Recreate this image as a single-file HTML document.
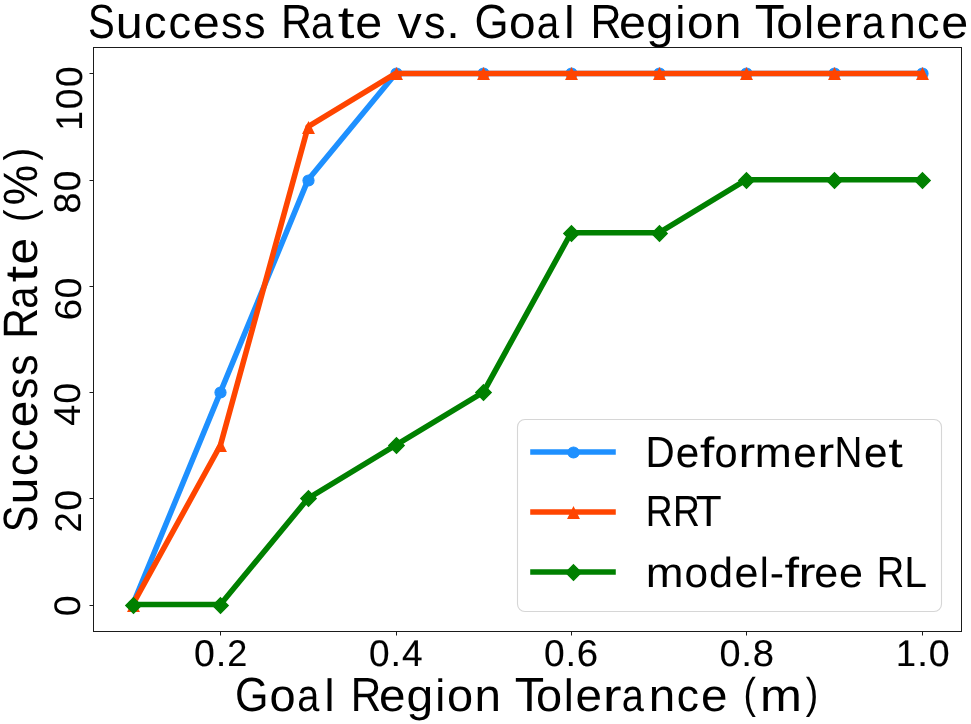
<!DOCTYPE html>
<html lang="en"><head><meta charset="utf-8"><title>Success Rate vs. Goal Region Tolerance</title>
<style>html,body{margin:0;padding:0;background:#fff;}svg{display:block;will-change:transform;}text{font-family:"Liberation Sans",sans-serif;fill:#000;white-space:pre;text-rendering:geometricPrecision;}</style>
</head><body>
<svg width="971" height="724" viewBox="0 0 971 724">
<rect x="0" y="0" width="971" height="724" fill="#fff"/>
<g id="plot-lines">
<polyline points="132.75,604.55 220.43,392.11 308.11,179.67 395.78,73.45 483.46,73.45 571.14,73.45 658.82,73.45 746.49,73.45 834.17,73.45 921.85,73.45" fill="none" stroke="#1e90ff" stroke-width="5.56" stroke-linejoin="round" stroke-linecap="square"/>
<circle cx="133.5" cy="605.5" r="5.56" fill="#1e90ff" stroke="#1e90ff" stroke-width="1.11"/><circle cx="220.5" cy="392.5" r="5.56" fill="#1e90ff" stroke="#1e90ff" stroke-width="1.11"/><circle cx="308.5" cy="180.5" r="5.56" fill="#1e90ff" stroke="#1e90ff" stroke-width="1.11"/><circle cx="396.5" cy="73.5" r="5.56" fill="#1e90ff" stroke="#1e90ff" stroke-width="1.11"/><circle cx="483.5" cy="73.5" r="5.56" fill="#1e90ff" stroke="#1e90ff" stroke-width="1.11"/><circle cx="571.5" cy="73.5" r="5.56" fill="#1e90ff" stroke="#1e90ff" stroke-width="1.11"/><circle cx="659.5" cy="73.5" r="5.56" fill="#1e90ff" stroke="#1e90ff" stroke-width="1.11"/><circle cx="746.5" cy="73.5" r="5.56" fill="#1e90ff" stroke="#1e90ff" stroke-width="1.11"/><circle cx="834.5" cy="73.5" r="5.56" fill="#1e90ff" stroke="#1e90ff" stroke-width="1.11"/><circle cx="922.5" cy="73.5" r="5.56" fill="#1e90ff" stroke="#1e90ff" stroke-width="1.11"/>
<polyline points="132.75,604.55 220.43,445.22 308.11,126.56 395.78,73.45 483.46,73.45 571.14,73.45 658.82,73.45 746.49,73.45 834.17,73.45 921.85,73.45" fill="none" stroke="#ff4500" stroke-width="5.56" stroke-linejoin="round" stroke-linecap="square"/>
<path d="M133.5 600.34 L127.94 611.46 L139.06 611.46 Z" fill="#ff4500" stroke="#ff4500" stroke-width="1.11" stroke-linejoin="miter"/><path d="M220.5 440.34 L214.94 451.46 L226.06 451.46 Z" fill="#ff4500" stroke="#ff4500" stroke-width="1.11" stroke-linejoin="miter"/><path d="M308.5 122.34 L302.94 133.46 L314.06 133.46 Z" fill="#ff4500" stroke="#ff4500" stroke-width="1.11" stroke-linejoin="miter"/><path d="M396.5 68.34 L390.94 79.46 L402.06 79.46 Z" fill="#ff4500" stroke="#ff4500" stroke-width="1.11" stroke-linejoin="miter"/><path d="M483.5 68.34 L477.94 79.46 L489.06 79.46 Z" fill="#ff4500" stroke="#ff4500" stroke-width="1.11" stroke-linejoin="miter"/><path d="M571.5 68.34 L565.94 79.46 L577.06 79.46 Z" fill="#ff4500" stroke="#ff4500" stroke-width="1.11" stroke-linejoin="miter"/><path d="M659.5 68.34 L653.94 79.46 L665.06 79.46 Z" fill="#ff4500" stroke="#ff4500" stroke-width="1.11" stroke-linejoin="miter"/><path d="M746.5 68.34 L740.94 79.46 L752.06 79.46 Z" fill="#ff4500" stroke="#ff4500" stroke-width="1.11" stroke-linejoin="miter"/><path d="M834.5 68.34 L828.94 79.46 L840.06 79.46 Z" fill="#ff4500" stroke="#ff4500" stroke-width="1.11" stroke-linejoin="miter"/><path d="M922.5 68.34 L916.94 79.46 L928.06 79.46 Z" fill="#ff4500" stroke="#ff4500" stroke-width="1.11" stroke-linejoin="miter"/>
<polyline points="132.75,604.55 220.43,604.55 308.11,498.33 395.78,445.22 483.46,392.11 571.14,232.78 658.82,232.78 746.49,179.67 834.17,179.67 921.85,179.67" fill="none" stroke="#008000" stroke-width="5.56" stroke-linejoin="round" stroke-linecap="square"/>
<path d="M133.5 597.64 L141.36 605.5 L133.5 613.36 L125.64 605.5 Z" fill="#008000" stroke="#008000" stroke-width="1.11" stroke-linejoin="miter"/><path d="M220.5 597.64 L228.36 605.5 L220.5 613.36 L212.64 605.5 Z" fill="#008000" stroke="#008000" stroke-width="1.11" stroke-linejoin="miter"/><path d="M308.5 490.64 L316.36 498.5 L308.5 506.36 L300.64 498.5 Z" fill="#008000" stroke="#008000" stroke-width="1.11" stroke-linejoin="miter"/><path d="M396.5 437.64 L404.36 445.5 L396.5 453.36 L388.64 445.5 Z" fill="#008000" stroke="#008000" stroke-width="1.11" stroke-linejoin="miter"/><path d="M483.5 384.64 L491.36 392.5 L483.5 400.36 L475.64 392.5 Z" fill="#008000" stroke="#008000" stroke-width="1.11" stroke-linejoin="miter"/><path d="M571.5 225.64 L579.36 233.5 L571.5 241.36 L563.64 233.5 Z" fill="#008000" stroke="#008000" stroke-width="1.11" stroke-linejoin="miter"/><path d="M659.5 225.64 L667.36 233.5 L659.5 241.36 L651.64 233.5 Z" fill="#008000" stroke="#008000" stroke-width="1.11" stroke-linejoin="miter"/><path d="M746.5 172.64 L754.36 180.5 L746.5 188.36 L738.64 180.5 Z" fill="#008000" stroke="#008000" stroke-width="1.11" stroke-linejoin="miter"/><path d="M834.5 172.64 L842.36 180.5 L834.5 188.36 L826.64 180.5 Z" fill="#008000" stroke="#008000" stroke-width="1.11" stroke-linejoin="miter"/><path d="M922.5 172.64 L930.36 180.5 L922.5 188.36 L914.64 180.5 Z" fill="#008000" stroke="#008000" stroke-width="1.11" stroke-linejoin="miter"/>
</g>
<g id="axes" fill="#1b1b1b">
<rect x="93" y="47" width="869" height="1"/><rect x="93" y="631" width="869" height="1"/><rect x="93" y="47" width="1" height="585"/><rect x="961" y="47" width="1" height="585"/>
<rect x="220" y="632" width="1" height="3"/><rect x="220" y="635" width="1" height="1" fill="#8d8d8d"/>
<rect x="396" y="632" width="1" height="3"/><rect x="396" y="635" width="1" height="1" fill="#8d8d8d"/>
<rect x="571" y="632" width="1" height="3"/><rect x="571" y="635" width="1" height="1" fill="#8d8d8d"/>
<rect x="746" y="632" width="1" height="3"/><rect x="746" y="635" width="1" height="1" fill="#8d8d8d"/>
<rect x="922" y="632" width="1" height="3"/><rect x="922" y="635" width="1" height="1" fill="#8d8d8d"/>
<rect x="90" y="605" width="3" height="1"/><rect x="89" y="605" width="1" height="1" fill="#8d8d8d"/>
<rect x="90" y="498" width="3" height="1"/><rect x="89" y="498" width="1" height="1" fill="#8d8d8d"/>
<rect x="90" y="392" width="3" height="1"/><rect x="89" y="392" width="1" height="1" fill="#8d8d8d"/>
<rect x="90" y="286" width="3" height="1"/><rect x="89" y="286" width="1" height="1" fill="#8d8d8d"/>
<rect x="90" y="180" width="3" height="1"/><rect x="89" y="180" width="1" height="1" fill="#8d8d8d"/>
<rect x="90" y="73" width="3" height="1"/><rect x="89" y="73" width="1" height="1" fill="#8d8d8d"/>
</g>
<g id="legend">
<rect x="517.5" y="419.5" width="424" height="192" rx="7.5" ry="7.5" fill="#fff" fill-opacity="0.8" stroke="#d6d6d6" stroke-width="1.11"/>
<line x1="533" y1="452" x2="613" y2="452" stroke="#1e90ff" stroke-width="5.56" stroke-linecap="square"/>
<circle cx="573.5" cy="452.5" r="5.56" fill="#1e90ff" stroke="#1e90ff" stroke-width="1.11"/>
<line x1="533" y1="512" x2="613" y2="512" stroke="#ff4500" stroke-width="5.56" stroke-linecap="square"/>
<path d="M573.5 507.34 L567.94 518.46 L579.06 518.46 Z" fill="#ff4500" stroke="#ff4500" stroke-width="1.11" stroke-linejoin="miter"/>
<line x1="533" y1="572" x2="613" y2="572" stroke="#008000" stroke-width="5.56" stroke-linecap="square"/>
<path d="M573.5 564.64 L581.36 572.5 L573.5 580.36 L565.64 572.5 Z" fill="#008000" stroke="#008000" stroke-width="1.11" stroke-linejoin="miter"/>
</g>
<g id="labels">
<text transform="translate(0 38)"><tspan font-size="48" x="88.07" y="0" textLength="26.72" lengthAdjust="spacingAndGlyphs">S</tspan><tspan font-size="45.56" x="115.84" y="0" textLength="26.95" lengthAdjust="spacingAndGlyphs">u</tspan><tspan font-size="45.56" x="143.95" y="0" textLength="22.55" lengthAdjust="spacingAndGlyphs">c</tspan><tspan font-size="45.56" x="168.41" y="0" textLength="22.55" lengthAdjust="spacingAndGlyphs">c</tspan><tspan font-size="45.56" x="192.71" y="0" textLength="26.99" lengthAdjust="spacingAndGlyphs">e</tspan><tspan font-size="45.56" x="220.93" y="0" textLength="21.54" lengthAdjust="spacingAndGlyphs">s</tspan><tspan font-size="45.56" x="244.11" y="0" textLength="21.54" lengthAdjust="spacingAndGlyphs">s</tspan> <tspan font-size="48" x="281.03" y="0" textLength="31.04" lengthAdjust="spacingAndGlyphs">R</tspan><tspan font-size="45.56" x="311.1" y="0" textLength="22.47" lengthAdjust="spacingAndGlyphs">a</tspan><tspan font-size="45.56" x="337.72" y="0" textLength="16.69" lengthAdjust="spacingAndGlyphs">t</tspan><tspan font-size="45.56" x="355.24" y="0" textLength="26.99" lengthAdjust="spacingAndGlyphs">e</tspan> <tspan font-size="45.56" x="397.52" y="0" textLength="24.25" lengthAdjust="spacingAndGlyphs">v</tspan><tspan font-size="45.56" x="423.93" y="0" textLength="21.54" lengthAdjust="spacingAndGlyphs">s</tspan><tspan font-size="45.56" x="446.28" y="0" textLength="13.51" lengthAdjust="spacingAndGlyphs">.</tspan> <tspan font-size="48" x="474.43" y="0" textLength="34.09" lengthAdjust="spacingAndGlyphs">G</tspan><tspan font-size="45.56" x="509.09" y="0" textLength="26.57" lengthAdjust="spacingAndGlyphs">o</tspan><tspan font-size="45.56" x="536.83" y="0" textLength="22.47" lengthAdjust="spacingAndGlyphs">a</tspan><tspan font-size="45.56" x="564.32" y="0" textLength="10.21" lengthAdjust="spacingAndGlyphs">l</tspan> <tspan font-size="48" x="590.46" y="0" textLength="31.04" lengthAdjust="spacingAndGlyphs">R</tspan><tspan font-size="45.56" x="618.94" y="0" textLength="26.99" lengthAdjust="spacingAndGlyphs">e</tspan><tspan font-size="45.56" x="646.33" y="0" textLength="27.16" lengthAdjust="spacingAndGlyphs">g</tspan><tspan font-size="45.56" x="675.38" y="0" textLength="10.21" lengthAdjust="spacingAndGlyphs">i</tspan><tspan font-size="45.56" x="686.97" y="0" textLength="26.57" lengthAdjust="spacingAndGlyphs">o</tspan><tspan font-size="45.56" x="714.58" y="0" textLength="26.95" lengthAdjust="spacingAndGlyphs">n</tspan> <tspan font-size="48" x="754.83" y="0" textLength="29.94" lengthAdjust="spacingAndGlyphs">T</tspan><tspan font-size="45.56" x="776.16" y="0" textLength="26.57" lengthAdjust="spacingAndGlyphs">o</tspan><tspan font-size="45.56" x="804.12" y="0" textLength="10.21" lengthAdjust="spacingAndGlyphs">l</tspan><tspan font-size="45.56" x="815.68" y="0" textLength="26.99" lengthAdjust="spacingAndGlyphs">e</tspan><tspan font-size="45.56" x="842.92" y="0" textLength="19.17" lengthAdjust="spacingAndGlyphs">r</tspan><tspan font-size="45.56" x="861.92" y="0" textLength="22.47" lengthAdjust="spacingAndGlyphs">a</tspan><tspan font-size="45.56" x="889.05" y="0" textLength="26.95" lengthAdjust="spacingAndGlyphs">n</tspan><tspan font-size="45.56" x="916.98" y="0" textLength="22.55" lengthAdjust="spacingAndGlyphs">c</tspan><tspan font-size="45.56" x="941.27" y="0" textLength="26.99" lengthAdjust="spacingAndGlyphs">e</tspan></text>
<text transform="translate(0 711.25)"><tspan font-size="48" x="234.9" y="0" textLength="33.53" lengthAdjust="spacingAndGlyphs">G</tspan><tspan font-size="45.33" x="269.46" y="0" textLength="26.13" lengthAdjust="spacingAndGlyphs">o</tspan><tspan font-size="45.33" x="297.13" y="0" textLength="22.1" lengthAdjust="spacingAndGlyphs">a</tspan><tspan font-size="45.33" x="324.47" y="0" textLength="10.04" lengthAdjust="spacingAndGlyphs">l</tspan> <tspan font-size="48" x="350.74" y="0" textLength="30.53" lengthAdjust="spacingAndGlyphs">R</tspan><tspan font-size="45.33" x="379.13" y="0" textLength="26.55" lengthAdjust="spacingAndGlyphs">e</tspan><tspan font-size="45.33" x="406.46" y="0" textLength="26.71" lengthAdjust="spacingAndGlyphs">g</tspan><tspan font-size="45.33" x="435.35" y="0" textLength="10.04" lengthAdjust="spacingAndGlyphs">i</tspan><tspan font-size="45.33" x="447.05" y="0" textLength="26.13" lengthAdjust="spacingAndGlyphs">o</tspan><tspan font-size="45.33" x="474.61" y="0" textLength="26.5" lengthAdjust="spacingAndGlyphs">n</tspan> <tspan font-size="48" x="514.81" y="0" textLength="29.44" lengthAdjust="spacingAndGlyphs">T</tspan><tspan font-size="45.33" x="536.08" y="0" textLength="26.13" lengthAdjust="spacingAndGlyphs">o</tspan><tspan font-size="45.33" x="563.87" y="0" textLength="10.04" lengthAdjust="spacingAndGlyphs">l</tspan><tspan font-size="45.33" x="575.54" y="0" textLength="26.55" lengthAdjust="spacingAndGlyphs">e</tspan><tspan font-size="45.33" x="602.7" y="0" textLength="18.86" lengthAdjust="spacingAndGlyphs">r</tspan><tspan font-size="45.33" x="621.68" y="0" textLength="22.1" lengthAdjust="spacingAndGlyphs">a</tspan><tspan font-size="45.33" x="648.79" y="0" textLength="26.5" lengthAdjust="spacingAndGlyphs">n</tspan><tspan font-size="45.33" x="676.64" y="0" textLength="22.17" lengthAdjust="spacingAndGlyphs">c</tspan><tspan font-size="45.33" x="700.92" y="0" textLength="26.55" lengthAdjust="spacingAndGlyphs">e</tspan> <tspan font-size="43.11" x="743.42" y="-2.9" textLength="12.44" lengthAdjust="spacingAndGlyphs">(</tspan><tspan font-size="45.33" x="760" y="0" textLength="41.95" lengthAdjust="spacingAndGlyphs">m</tspan><tspan font-size="43.11" x="805.85" y="-2.9" textLength="12.44" lengthAdjust="spacingAndGlyphs">)</tspan></text>
<text transform="translate(36.75 530) rotate(-90)" stroke="#000" stroke-width="0.05"><tspan font-size="48.22" x="-1.99" y="0" textLength="26.35" lengthAdjust="spacingAndGlyphs">S</tspan><tspan font-size="45.56" x="25.82" y="0" textLength="26.57" lengthAdjust="spacingAndGlyphs">u</tspan><tspan font-size="45.56" x="53.93" y="0" textLength="22.23" lengthAdjust="spacingAndGlyphs">c</tspan><tspan font-size="45.56" x="78.41" y="0" textLength="22.23" lengthAdjust="spacingAndGlyphs">c</tspan><tspan font-size="45.56" x="102.76" y="0" textLength="26.62" lengthAdjust="spacingAndGlyphs">e</tspan><tspan font-size="45.56" x="130.96" y="0" textLength="21.24" lengthAdjust="spacingAndGlyphs">s</tspan><tspan font-size="45.56" x="154.16" y="0" textLength="21.24" lengthAdjust="spacingAndGlyphs">s</tspan> <tspan font-size="48.22" x="191.2" y="0" textLength="30.61" lengthAdjust="spacingAndGlyphs">R</tspan><tspan font-size="45.56" x="221.24" y="0" textLength="22.16" lengthAdjust="spacingAndGlyphs">a</tspan><tspan font-size="45.56" x="247.83" y="0" textLength="16.45" lengthAdjust="spacingAndGlyphs">t</tspan><tspan font-size="45.56" x="265.44" y="0" textLength="26.62" lengthAdjust="spacingAndGlyphs">e</tspan> <tspan font-size="42.67" x="308.04" y="-2.4" textLength="12.47" lengthAdjust="spacingAndGlyphs">(</tspan><tspan font-size="48.22" x="324.82" y="0" textLength="40.46" lengthAdjust="spacingAndGlyphs">%</tspan><tspan font-size="42.67" x="369.57" y="-2.4" textLength="12.47" lengthAdjust="spacingAndGlyphs">)</tspan></text>
<text transform="translate(0 665.5)" stroke="#000" stroke-width="0.1"><tspan font-size="37.16" x="193.95" y="0" textLength="20.79" lengthAdjust="spacingAndGlyphs">0</tspan><tspan font-size="36.98" x="215.75" y="0" textLength="10.66" lengthAdjust="spacingAndGlyphs">.</tspan><tspan font-size="37.16" x="227.36" y="0" textLength="20.04" lengthAdjust="spacingAndGlyphs">2</tspan></text>
<text transform="translate(0 665.5)" stroke="#000" stroke-width="0.15"><tspan font-size="36.98" x="368.97" y="0" textLength="20.57" lengthAdjust="spacingAndGlyphs">0</tspan><tspan font-size="37.87" x="390.54" y="0" textLength="10.55" lengthAdjust="spacingAndGlyphs">.</tspan><tspan font-size="36.98" x="402.11" y="0" textLength="20.57" lengthAdjust="spacingAndGlyphs">4</tspan></text>
<text transform="translate(0 666)" stroke="#000" stroke-width="0.1"><tspan font-size="37.33" x="543.96" y="0" textLength="20.66" lengthAdjust="spacingAndGlyphs">0</tspan><tspan font-size="36.8" x="565.63" y="0" textLength="10.6" lengthAdjust="spacingAndGlyphs">.</tspan><tspan font-size="37.33" x="576.89" y="0" textLength="21.39" lengthAdjust="spacingAndGlyphs">6</tspan></text>
<text transform="translate(0 665.75)" stroke="#000" stroke-width="0.1"><tspan font-size="37.33" x="719.55" y="0" textLength="21.05" lengthAdjust="spacingAndGlyphs">0</tspan><tspan font-size="35.73" x="741.38" y="0" textLength="10.79" lengthAdjust="spacingAndGlyphs">.</tspan><tspan font-size="37.33" x="752.86" y="0" textLength="21.28" lengthAdjust="spacingAndGlyphs">8</tspan></text>
<text transform="translate(0 666)" stroke="#000" stroke-width="0.2"><tspan font-size="36.98" x="896.09" y="0" textLength="19.89" lengthAdjust="spacingAndGlyphs">1</tspan><tspan font-size="35.56" x="917.39" y="0" textLength="10.68" lengthAdjust="spacingAndGlyphs">.</tspan><tspan font-size="36.98" x="928.86" y="0" textLength="20.82" lengthAdjust="spacingAndGlyphs">0</tspan></text>
<text transform="translate(82 128) rotate(-90)" stroke="#000" stroke-width="0.1"><tspan font-size="37.16" x="-2.86" y="0" textLength="19.78" lengthAdjust="spacingAndGlyphs">1</tspan><tspan font-size="37.16" x="18.88" y="0" textLength="20.71" lengthAdjust="spacingAndGlyphs">0</tspan><tspan font-size="37.16" x="40.92" y="0" textLength="20.71" lengthAdjust="spacingAndGlyphs">0</tspan></text>
<text transform="translate(79.5 212) rotate(-90)" stroke="#000" stroke-width="0.15"><tspan font-size="37.16" x="-1.63" y="0" textLength="20.83" lengthAdjust="spacingAndGlyphs">8</tspan><tspan font-size="37.16" x="20.84" y="0" textLength="20.6" lengthAdjust="spacingAndGlyphs">0</tspan></text>
<text transform="translate(81 318) rotate(-90)"><tspan font-size="37.16" x="-2.57" y="0" textLength="21.66" lengthAdjust="spacingAndGlyphs">6</tspan><tspan font-size="37.16" x="19.64" y="0" textLength="20.93" lengthAdjust="spacingAndGlyphs">0</tspan></text>
<text transform="translate(80 424) rotate(-90)"><tspan font-size="37.33" x="-1.69" y="0" textLength="20.98" lengthAdjust="spacingAndGlyphs">4</tspan><tspan font-size="37.33" x="20.3" y="0" textLength="20.97" lengthAdjust="spacingAndGlyphs">0</tspan></text>
<text transform="translate(81 530) rotate(-90)" stroke="#000" stroke-width="0.05"><tspan font-size="37.16" x="-2.6" y="0" textLength="20.14" lengthAdjust="spacingAndGlyphs">2</tspan><tspan font-size="37.16" x="19.38" y="0" textLength="20.89" lengthAdjust="spacingAndGlyphs">0</tspan></text>
<text transform="translate(80 615) rotate(-90)"><tspan font-size="36.98" x="-1.22" y="0" textLength="20.94" lengthAdjust="spacingAndGlyphs">0</tspan></text>
<text transform="translate(0 467)" stroke="#000" stroke-width="0.05"><tspan font-size="43.6" x="645.43" y="0" textLength="29.17" lengthAdjust="spacingAndGlyphs">D</tspan><tspan font-size="42" x="675.87" y="0" textLength="23.45" lengthAdjust="spacingAndGlyphs">e</tspan><tspan font-size="42" x="700.1" y="0" textLength="14.24" lengthAdjust="spacingAndGlyphs">f</tspan><tspan font-size="42" x="714.45" y="0" textLength="23.08" lengthAdjust="spacingAndGlyphs">o</tspan><tspan font-size="42" x="738.59" y="0" textLength="16.66" lengthAdjust="spacingAndGlyphs">r</tspan><tspan font-size="42" x="754.82" y="0" textLength="37.05" lengthAdjust="spacingAndGlyphs">m</tspan><tspan font-size="42" x="793.25" y="0" textLength="23.45" lengthAdjust="spacingAndGlyphs">e</tspan><tspan font-size="42" x="817.58" y="0" textLength="16.66" lengthAdjust="spacingAndGlyphs">r</tspan><tspan font-size="43.6" x="834.5" y="0" textLength="27.85" lengthAdjust="spacingAndGlyphs">N</tspan><tspan font-size="42" x="863.94" y="0" textLength="23.45" lengthAdjust="spacingAndGlyphs">e</tspan><tspan font-size="42" x="888.25" y="0" textLength="14.5" lengthAdjust="spacingAndGlyphs">t</tspan></text>
<text transform="translate(0 526)" stroke="#000" stroke-width="0.05"><tspan font-size="43.6" x="645.81" y="0" textLength="26.87" lengthAdjust="spacingAndGlyphs">R</tspan><tspan font-size="43.6" x="673.11" y="0" textLength="26.87" lengthAdjust="spacingAndGlyphs">R</tspan><tspan font-size="43.6" x="695.69" y="0" textLength="25.91" lengthAdjust="spacingAndGlyphs">T</tspan></text>
<text transform="translate(0 587)"><tspan font-size="42" x="645.82" y="0" textLength="37.8" lengthAdjust="spacingAndGlyphs">m</tspan><tspan font-size="42" x="684.59" y="0" textLength="23.55" lengthAdjust="spacingAndGlyphs">o</tspan><tspan font-size="42" x="709.04" y="0" textLength="24.08" lengthAdjust="spacingAndGlyphs">d</tspan><tspan font-size="42" x="734.44" y="0" textLength="23.93" lengthAdjust="spacingAndGlyphs">e</tspan><tspan font-size="42" x="759.67" y="0" textLength="9.05" lengthAdjust="spacingAndGlyphs">l</tspan><tspan font-size="42" x="769.83" y="0" textLength="14.3" lengthAdjust="spacingAndGlyphs">-</tspan><tspan font-size="42" x="784.41" y="0" textLength="14.53" lengthAdjust="spacingAndGlyphs">f</tspan><tspan font-size="42" x="798.57" y="0" textLength="16.99" lengthAdjust="spacingAndGlyphs">r</tspan><tspan font-size="42" x="814.3" y="0" textLength="23.93" lengthAdjust="spacingAndGlyphs">e</tspan><tspan font-size="42" x="838.93" y="0" textLength="23.93" lengthAdjust="spacingAndGlyphs">e</tspan> <tspan font-size="43.6" x="876.71" y="0" textLength="27.51" lengthAdjust="spacingAndGlyphs">R</tspan><tspan font-size="43.6" x="904.28" y="0" textLength="22.79" lengthAdjust="spacingAndGlyphs">L</tspan></text>
</g></svg>
</body></html>
